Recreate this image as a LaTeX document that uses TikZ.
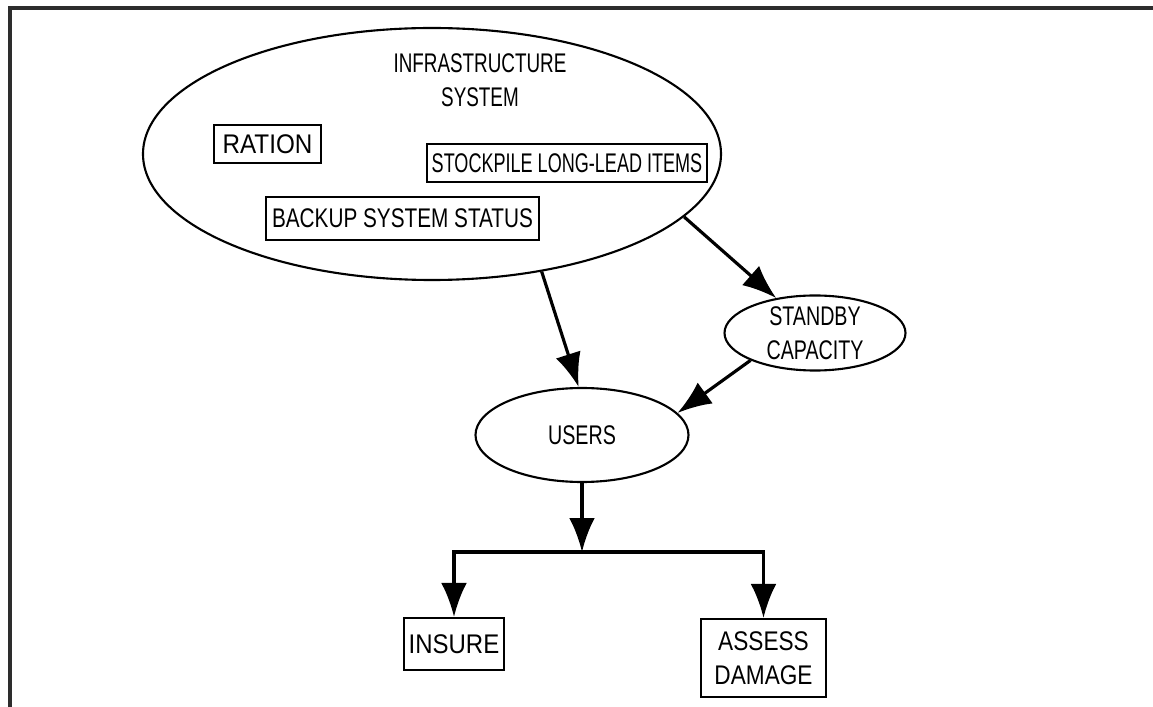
\documentclass[tikz,border=0pt]{standalone}
\usepackage{fontspec}
\setmainfont{Liberation Sans}[FakeStretch=0.73]
\usetikzlibrary{arrows.meta,shapes.geometric}
\definecolor{frameGray}{RGB}{45,45,45}
\newcommand{\fitw}[1]{\addfontfeatures{FakeStretch=#1}}

\begin{document}
\begin{tikzpicture}[x=0.3mm,y=-0.3mm,font=\fontsize{23}{29}\selectfont,
 actbox/.style={draw,line width=1.8pt,rectangle,inner sep=1pt,align=center},
 oval/.style={draw,line width=1.8pt,ellipse,inner sep=0pt,align=center},
 arr/.style={-{Latex[length=29pt,width=22pt]},line width=2.7pt}]
\path[use as bounding box] (0,0) rectangle (1153,707);
\draw[frameGray,line width=2.6pt] (10,707) -- (10,8) -- (1153,8);
\node[oval,minimum width=173.4mm,minimum height=75.6mm] (infra) at (432,154) {};
\node[align=center,inner sep=0pt,font=\fontsize{23}{29}\selectfont\fitw{0.7}] (infralbl) at (480,80) {INFRASTRUCTURE\\SYSTEM};
\node[actbox,minimum width=32.1mm,minimum height=11.4mm,font=\fontsize{23}{29}\selectfont\fitw{0.9}] (ration) at (267.5,144) {RATION};
\node[actbox,minimum width=84mm,minimum height=11.4mm,font=\fontsize{23}{29}\selectfont\fitw{0.67}] (stock) at (567,163) {STOCKPILE LONG-LEAD ITEMS};
\node[actbox,minimum width=81.9mm,minimum height=12.9mm,font=\fontsize{23}{29}\selectfont\fitw{0.77}] (backup) at (402.5,218.5) {BACKUP SYSTEM STATUS};
\node[oval,minimum width=54.3mm,minimum height=22.5mm] (standby) at (815,333) {STANDBY\\CAPACITY};
\node[oval,minimum width=63.9mm,minimum height=28.2mm] (users) at (582,435) {USERS};
\node[actbox,minimum width=30mm,minimum height=15.6mm,font=\fontsize{23}{29}\selectfont\fitw{0.89}] (insure) at (454,644) {INSURE};
\node[actbox,minimum width=37.5mm,minimum height=23.4mm,font=\fontsize{23}{29}\selectfont\fitw{0.84}] (assess) at (763.5,658) {ASSESS\\DAMAGE};
\coordinate (split) at (582,552);
\draw[arr] (infra.-47) -- (users.94);
\draw[arr] (infra.-14) -- (standby.138);
\draw[arr] (standby.203) -- (users.13);
\draw[arr] (users.south) -- (split);
\draw[arr] (split) -| (insure.north);
\draw[arr] (split) -| (assess.north);
\end{tikzpicture}
\end{document}
